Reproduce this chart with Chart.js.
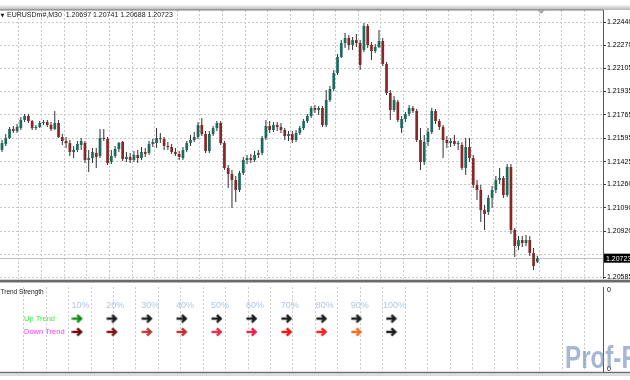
<!DOCTYPE html>
<html><head><meta charset="utf-8">
<script src="https://cdn.jsdelivr.net/npm/chart.js@4/dist/chart.umd.min.js"></script>
<style>
html,body{margin:0;padding:0;background:#fff;width:630px;height:380px;overflow:hidden;}
#topbar{position:absolute;left:0;top:5px;width:630px;height:5px;background:linear-gradient(#f6f6f6,#b4b4b4);}
#main{position:absolute;left:0;top:0;}
#sub{position:absolute;left:0;top:279px;}
#wm{position:absolute;left:565px;top:340px;font:bold 31px "Liberation Sans";color:rgba(105,135,180,0.6);transform:scaleX(0.78);transform-origin:left top;white-space:nowrap;}
</style></head><body>
<div id="topbar"></div>
<canvas id="main" width="630" height="380"></canvas>
<canvas id="sub" width="630" height="101"></canvas>
<div id="wm">Prof-F</div>
<script>
const symbol = 'EURUSDm#';
const timeframe = 'M30';

const open = [
1.21510,1.21553,1.21597,1.21662,1.21648,1.21669,1.21728,1.21757,1.21720,1.21669,
1.21677,1.21706,1.21713,1.21691,1.21662,1.21706,1.21604,1.21575,1.21560,1.21495,
1.21510,1.21546,1.21560,1.21437,1.21451,1.21488,1.21466,1.21597,1.21590,1.21422,
1.21466,1.21517,1.21568,1.21444,1.21459,1.21437,1.21473,1.21451,1.21495,1.21488,
1.21553,1.21560,1.21597,1.21590,1.21539,1.21531,1.21495,1.21481,1.21451,1.21510,
1.21560,1.21582,1.21604,1.21691,1.21626,1.21502,1.21626,1.21669,1.21706,1.21560,
1.21379,1.21335,1.21291,1.21219,1.21342,1.21437,1.21451,1.21437,1.21473,1.21488,
1.21597,1.21684,1.21655,1.21691,1.21677,1.21655,1.21611,1.21626,1.21582,1.21633,
1.21669,1.21720,1.21757,1.21815,1.21800,1.21815,1.21691,1.21873,1.21953,1.22069,
1.22186,1.22287,1.22324,1.22273,1.22309,1.22287,1.22237,1.22411,1.22273,1.22229,
1.22258,1.22302,1.22135,1.21924,1.21800,1.21859,1.21669,1.21735,1.21771,1.21815,
1.21793,1.21582,1.21422,1.21568,1.21640,1.21793,1.21720,1.21677,1.21582,1.21560,
1.21575,1.21553,1.21546,1.21379,1.21531,1.21451,1.21255,1.21219,1.21073,1.21059,
1.21161,1.21219,1.21291,1.21306,1.21182,1.21386,1.20928,1.20812,1.20855,1.20833,
1.20855,1.20761,1.20697];

const high = [
1.21582,1.21626,1.21677,1.21684,1.21699,1.21749,1.21771,1.21771,1.21728,1.21691,
1.21720,1.21728,1.21728,1.21713,1.21793,1.21728,1.21626,1.21604,1.21582,1.21539,
1.21575,1.21597,1.21575,1.21510,1.21524,1.21524,1.21662,1.21662,1.21604,1.21510,
1.21539,1.21568,1.21575,1.21495,1.21488,1.21502,1.21510,1.21531,1.21524,1.21575,
1.21590,1.21669,1.21633,1.21604,1.21568,1.21553,1.21524,1.21502,1.21531,1.21575,
1.21619,1.21640,1.21713,1.21742,1.21648,1.21648,1.21684,1.21720,1.21720,1.21575,
1.21400,1.21364,1.21321,1.21357,1.21459,1.21473,1.21481,1.21502,1.21510,1.21611,
1.21728,1.21720,1.21713,1.21713,1.21706,1.21669,1.21648,1.21648,1.21655,1.21684,
1.21735,1.21771,1.21829,1.21837,1.21829,1.21829,1.21946,1.21975,1.22091,1.22207,
1.22309,1.22360,1.22346,1.22331,1.22353,1.22309,1.22433,1.22426,1.22295,1.22280,
1.22382,1.22324,1.22149,1.21946,1.21902,1.21873,1.21757,1.21786,1.21837,1.21829,
1.21808,1.21669,1.21619,1.21669,1.21815,1.21808,1.21735,1.21691,1.21611,1.21597,
1.21619,1.21575,1.21568,1.21597,1.21597,1.21473,1.21291,1.21255,1.21110,1.21182,
1.21248,1.21321,1.21379,1.21321,1.21408,1.21408,1.20942,1.20884,1.20884,1.20892,
1.20884,1.20797,1.20741];

const low = [
1.21495,1.21539,1.21590,1.21633,1.21633,1.21655,1.21713,1.21706,1.21655,1.21655,
1.21669,1.21691,1.21677,1.21648,1.21655,1.21597,1.21546,1.21524,1.21466,1.21451,
1.21495,1.21510,1.21415,1.21350,1.21415,1.21379,1.21451,1.21575,1.21400,1.21408,
1.21451,1.21495,1.21430,1.21422,1.21415,1.21422,1.21415,1.21437,1.21459,1.21473,
1.21531,1.21524,1.21560,1.21510,1.21510,1.21481,1.21466,1.21437,1.21437,1.21495,
1.21539,1.21568,1.21590,1.21611,1.21488,1.21488,1.21611,1.21648,1.21546,1.21364,
1.21233,1.21088,1.21131,1.21204,1.21328,1.21408,1.21415,1.21422,1.21451,1.21473,
1.21582,1.21633,1.21640,1.21648,1.21633,1.21582,1.21575,1.21560,1.21568,1.21619,
1.21655,1.21706,1.21742,1.21779,1.21764,1.21677,1.21677,1.21859,1.21938,1.22055,
1.22178,1.22251,1.22237,1.22237,1.22258,1.22091,1.22222,1.22251,1.22164,1.22215,
1.22251,1.22120,1.21909,1.21728,1.21786,1.21713,1.21633,1.21713,1.21757,1.21779,
1.21568,1.21364,1.21400,1.21539,1.21626,1.21699,1.21655,1.21451,1.21524,1.21531,
1.21539,1.21510,1.21364,1.21328,1.21422,1.21233,1.21146,1.20986,1.20928,1.21037,
1.21088,1.21197,1.21262,1.21161,1.21168,1.20899,1.20732,1.20783,1.20804,1.20812,
1.20739,1.20637,1.20688];

const close = [
1.21560,1.21597,1.21662,1.21648,1.21677,1.21728,1.21757,1.21720,1.21669,1.21677,
1.21706,1.21713,1.21691,1.21662,1.21706,1.21604,1.21575,1.21560,1.21495,1.21510,
1.21553,1.21575,1.21437,1.21451,1.21495,1.21459,1.21597,1.21590,1.21415,1.21466,
1.21517,1.21560,1.21444,1.21459,1.21437,1.21473,1.21451,1.21495,1.21481,1.21553,
1.21568,1.21597,1.21590,1.21539,1.21531,1.21495,1.21481,1.21459,1.21510,1.21560,
1.21582,1.21604,1.21691,1.21626,1.21502,1.21626,1.21669,1.21706,1.21560,1.21379,
1.21335,1.21291,1.21219,1.21342,1.21437,1.21451,1.21437,1.21473,1.21488,1.21597,
1.21684,1.21655,1.21691,1.21677,1.21655,1.21611,1.21626,1.21582,1.21633,1.21669,
1.21720,1.21757,1.21815,1.21800,1.21815,1.21691,1.21873,1.21953,1.22069,1.22186,
1.22287,1.22324,1.22273,1.22309,1.22287,1.22128,1.22411,1.22273,1.22229,1.22258,
1.22302,1.22135,1.21924,1.21800,1.21873,1.21728,1.21735,1.21771,1.21815,1.21793,
1.21582,1.21422,1.21568,1.21640,1.21793,1.21720,1.21677,1.21582,1.21560,1.21575,
1.21553,1.21560,1.21379,1.21531,1.21451,1.21255,1.21219,1.21073,1.21044,1.21161,
1.21219,1.21291,1.21306,1.21182,1.21386,1.20928,1.20812,1.20855,1.20833,1.20855,
1.20761,1.20666,1.20723];

const priceTicks = [1.22440,1.22270,1.22105,1.21935,1.21765,1.21595,1.21425,1.21260,1.21090,1.20920,1.20750,1.20585];
const hiddenTick = 1.20750;

const indicatorName = 'Trend Strength';
const pctLevels = [10,20,30,40,50,60,70,80,90,100];
const pctLabels = ['10%','20%','30%','40%','50%','60%','70%','80%','90%','100%'];
const rowNames = ['Up Trend','Down Trend'];
const rowColors = ['#3cf03c','#ff3cff'];
const upArrowColors = ['#118a11','#1c1c1c','#1c1c1c','#1c1c1c','#1c1c1c','#1c1c1c','#1c1c1c','#1c1c1c','#1c1c1c','#1c1c1c'];
const downArrowColors = ['#6e0c0c','#7d1414','#b83a3a','#c43030','#e82c50','#f0204a','#ff1010','#ff1a1a','#ff6a18','#1c1c1c'];

// view ranges
const X_MIN = -0.53, X_MAX = 159.42;
const Y_MIN = 1.205571, Y_MAX = 1.225273;
const ROW_LABEL = 3, ROW_UP = 2, ROW_DOWN = 1;

Chart.defaults.font.family = '"Liberation Sans", Arial, sans-serif';

function gridTicks(s){
  const t = [];
  for (let v = 4.5; v < X_MAX; v += 6) t.push({value: v});
  s.ticks = t;
}

const idx = close.map((_, i) => i);
const bodyColors = idx.map(i => close[i] >= open[i] ? '#1b6a5e' : '#872828');
const last = close.length - 1;

const mainDecor = {
  id: 'mainDecor',
  beforeDatasetsDraw(chart){
    const {ctx, chartArea: a, scales: {y}} = chart;
    const py = Math.round(y.getPixelForValue(close[last])) + 0.5;
    ctx.save();
    ctx.strokeStyle = '#c2c2c2'; ctx.lineWidth = 1;
    ctx.beginPath(); ctx.moveTo(a.left, py); ctx.lineTo(a.right, py); ctx.stroke();
    ctx.restore();
  },
  afterDraw(chart){
    const {ctx, chartArea: a, scales: {x, y}} = chart;
    ctx.save();
    ctx.fillStyle = '#7a7a7a';
    ctx.fillRect(0, a.top - 0.5, a.right, 1);
    const sx = x.getPixelForValue(close.length);
    ctx.fillStyle = '#a8a8a8';
    ctx.beginPath(); ctx.moveTo(sx - 4, a.top); ctx.lineTo(sx + 4, a.top); ctx.lineTo(sx, a.top + 4); ctx.closePath(); ctx.fill();
    const py = y.getPixelForValue(close[last]);
    ctx.fillStyle = '#000';
    ctx.fillRect(a.right + 1, py - 4.5, chart.width - a.right, 9);
    ctx.fillStyle = '#fff';
    ctx.font = '7px "Liberation Sans"';
    ctx.textBaseline = 'middle'; ctx.textAlign = 'left';
    ctx.fillText(close[last].toFixed(5), a.right + 3, py + 0.5);
    ctx.fillStyle = '#1a1a1a';
    ctx.font = '5px "DejaVu Sans"';
    ctx.fillText('▼', 0.5, 15.5);
    ctx.font = '7px "Liberation Sans"';
    ctx.fillText(symbol + ',' + timeframe + '  ' + open[last].toFixed(5) + ' ' + high[last].toFixed(5) + ' ' + low[last].toFixed(5) + ' ' + close[last].toFixed(5), 7, 15.5);
    ctx.restore();
  }
};

new Chart(document.getElementById('main'), {
  type: 'bar',
  data: {
    datasets: [
      { label: 'wick', data: idx.map(i => ({x: i, y: [low[i], high[i]]})), backgroundColor: '#303030', maxBarThickness: 1, grouped: false, order: 2 },
      { label: 'body', data: idx.map(i => ({x: i, y: [open[i], close[i]]})), backgroundColor: bodyColors, maxBarThickness: 2.8, grouped: false, order: 1, minBarLength: 1 }
    ]
  },
  options: {
    responsive: false, animation: false, devicePixelRatio: 1,
    layout: {padding: {top: 10, bottom: 99, left: 0, right: 0}},
    plugins: {legend: {display: false}, tooltip: {enabled: false}},
    scales: {
      x: {
        type: 'linear', min: X_MIN, max: X_MAX, offset: false,
        afterBuildTicks: gridTicks,
        afterFit: s => { s.height = 0; },
        ticks: {display: false},
        grid: {color: '#c8c8c8', drawTicks: false, offset: false},
        border: {display: false, dash: [2, 2]}
      },
      y: {
        type: 'linear', position: 'right', min: Y_MIN, max: Y_MAX,
        afterBuildTicks: s => { s.ticks = priceTicks.map(v => ({value: v})); },
        afterFit: s => { s.width = 27; },
        ticks: {autoSkip: false, padding: 1, color: '#000', font: {size: 7},
          callback: v => Math.abs(v - hiddenTick) < 1e-7 ? '' : Number(v).toFixed(5)},
        grid: {color: '#c8c8c8', drawTicks: true, tickLength: 3, tickColor: '#333', tickBorderDash: []},
        border: {display: true, color: '#555', width: 1, dash: [2, 2]}
      }
    }
  },
  plugins: [mainDecor]
});

function arrowImg(color){
  const c = document.createElement('canvas');
  c.width = 12; c.height = 10;
  const g = c.getContext('2d');
  g.strokeStyle = color; g.lineWidth = 2.4; g.lineJoin = 'miter'; g.lineCap = 'butt';
  g.beginPath(); g.moveTo(0.5, 5); g.lineTo(9, 5); g.stroke();
  g.beginPath(); g.moveTo(5.8, 1.3); g.lineTo(9.7, 5); g.lineTo(5.8, 8.7); g.stroke();
  return c;
}

const subDecor = {
  id: 'subDecor',
  beforeDraw(chart){
    const {ctx, chartArea: a, width, height} = chart;
    ctx.save();
    ctx.fillStyle = '#fff'; ctx.fillRect(0, 0, width, height);
    ctx.fillStyle = '#d2d2d2'; ctx.fillRect(0, 0, width, 1);
    ctx.fillStyle = '#6c6c6c'; ctx.fillRect(0, 1, width, 2.5);
    ctx.fillStyle = '#6c6c6c'; ctx.fillRect(0, a.bottom, width, 1.5);
    ctx.fillStyle = '#d2d2d2'; ctx.fillRect(0, a.bottom + 2.5, width, 1.5);
    ctx.restore();
  },
  afterDatasetsDraw(chart){
    const {ctx, chartArea: a, scales: {x, y}} = chart;
    ctx.save();
    ctx.textBaseline = 'middle';
    ctx.textAlign = 'left';
    ctx.fillStyle = '#222';
    ctx.font = '6.5px "Liberation Sans"';
    ctx.fillText(indicatorName, 0.5, a.top + 5);
    ctx.font = '7.5px "Liberation Sans"';
    ctx.fillStyle = rowColors[0]; ctx.fillText(rowNames[0], 24, y.getPixelForValue(ROW_UP));
    ctx.fillStyle = rowColors[1]; ctx.fillText(rowNames[1], 24, y.getPixelForValue(ROW_DOWN));
    ctx.textAlign = 'center';
    ctx.font = '9px "Liberation Sans"';
    ctx.fillStyle = '#b4c5dd';
    pctLevels.forEach((p, i) => ctx.fillText(pctLabels[i], x.getPixelForValue(p) + 3, y.getPixelForValue(ROW_LABEL)));
    ctx.restore();
  }
};

new Chart(document.getElementById('sub'), {
  type: 'scatter',
  data: {
    datasets: [
      { label: rowNames[0], data: pctLevels.map(p => ({x: p, y: ROW_UP})), pointStyle: upArrowColors.map(arrowImg), xAxisID: 'x', yAxisID: 'y' },
      { label: rowNames[1], data: pctLevels.map(p => ({x: p, y: ROW_DOWN})), pointStyle: downArrowColors.map(arrowImg), xAxisID: 'x', yAxisID: 'y' }
    ]
  },
  options: {
    responsive: false, animation: false, devicePixelRatio: 1,
    layout: {padding: {top: 4, bottom: 8, left: 0, right: 0}},
    plugins: {legend: {display: false}, tooltip: {enabled: false}},
    scales: {
      x: {type: 'linear', min: -10.74, max: 160.57, display: false},
      xg: {
        type: 'linear', position: 'bottom', min: X_MIN, max: X_MAX, offset: false,
        afterBuildTicks: gridTicks,
        afterFit: s => { s.height = 0; },
        ticks: {display: false},
        grid: {color: '#c8c8c8', drawTicks: false},
        border: {display: false, dash: [2, 2]}
      },
      y: {
        type: 'linear', position: 'right', min: -2.0, max: 4.357,
        afterBuildTicks: s => { s.ticks = [{value: 4.14}, {value: -1.79}]; },
        afterFit: s => { s.width = 27; },
        ticks: {autoSkip: false, padding: 4, color: '#000', font: {size: 7}, callback: () => '0'},
        grid: {display: false, drawTicks: false},
        border: {display: true, color: '#555', width: 1}
      }
    }
  },
  plugins: [subDecor]
});
</script>
</body></html>
